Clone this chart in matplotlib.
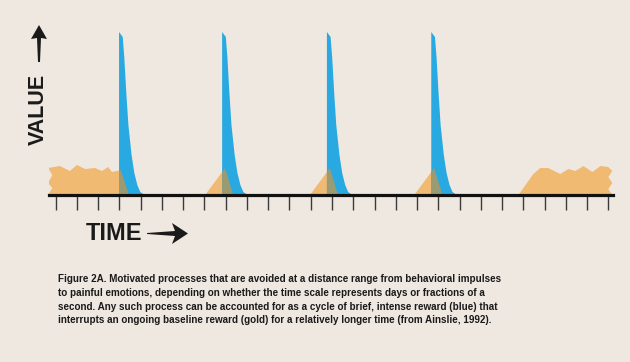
import numpy as np
import matplotlib
matplotlib.use("Agg")
import matplotlib.pyplot as plt
from matplotlib.patches import Polygon

# Data (time in tick units, value in arbitrary units)
tick_times = list(range(27))
spike_times = [2.98, 7.83, 12.76, 17.67]

# shape of one blue spike (offset from spike start, value)
blue_dt = [0.0, 0.0, 0.174, 0.25, 0.34, 0.44, 0.59, 0.72, 0.86, 1.0, 1.2]
blue_h = [0, 163, 158, 137, 103, 70, 40, 22, 10, 3, 0]

# small gold bump around later spikes
bump_dt = [-0.80, 0.14, 0.52]
bump_h = [0, 27, 0]

# ongoing baseline reward before the first spike
left_t = [-0.36, -0.16, -0.36, -0.16, -0.36, 0.20, 0.67, 1.00, 1.38, 1.85, 2.18, 2.46, 2.65, 2.89, 3.06, 3.45]
left_h = [0, 7, 12, 20, 27, 29, 24, 30, 26, 27, 24, 28, 23, 24, 25, 0]

# baseline reward after the last spike
right_t = [21.77, 22.47, 22.80, 23.17, 23.74, 24.12, 24.45, 24.83, 25.25, 25.63, 26.00, 26.19, 26.00, 26.19, 26.00, 26.19]
right_h = [0, 21, 27, 27, 21, 26, 24, 29, 23, 29, 28, 24, 18, 12, 6, 0]

caption = [
    "Figure 2A. Motivated processes that are avoided at a distance range from behavioral impulses",
    "to painful emotions, depending on whether the time scale represents days or fractions of a",
    "second. Any such process can be accounted for as a cycle of brief, intense reward (blue) that",
    "interrupts an ongoing baseline reward (gold) for a relatively longer time (from Ainslie, 1992).",
]

bg = "#EFE8E1"
gold = "#F0BA73"
blue = "#29A9E1"
olive = "#9B9B73"
W, H = 630, 362

def px(x, y):
    return (x / W, 1 - y / H)

fig = plt.figure(figsize=(W / 100, H / 100), dpi=100, facecolor=bg)
ax = fig.add_axes([49 / W, (H - 195) / H, (613 - 49) / W, 170 / H])
ax.set_facecolor(bg)
ax.set_xlim(-0.315, 26.22)
ax.set_ylim(0, 170)

# gold shapes
gold_shapes = [(left_t, left_h), (right_t, right_h)]
for s in spike_times[1:]:
    gold_shapes.append(([s + d for d in bump_dt], bump_h))
for gx, gy in gold_shapes:
    ax.fill(gx, gy, color=gold, lw=0)

# blue spikes, with the overlap shown in olive
for s in spike_times:
    bx = [s + d for d in blue_dt]
    bpatch = ax.fill(bx, blue_h, color=blue, lw=0)[0]
    for gx, gy in gold_shapes:
        op = ax.fill(gx, gy, color=olive, lw=0)[0]
        op.set_clip_path(bpatch)

for side in ["top", "right", "left"]:
    ax.spines[side].set_visible(False)
ax.spines["bottom"].set_linewidth(2.3)
ax.spines["bottom"].set_color("#111111")
ax.spines["bottom"].set_zorder(5)
ax.set_yticks([])
ax.set_xticks(tick_times)
ax.set_xticklabels([])
ax.tick_params(axis="x", direction="out", length=11, width=1.0, color="#3a3a3a")

# axis titles
fig.text(*px(38, 109), "VALUE", rotation=90, ha="center", va="center",
         fontsize=15.5, fontweight="bold", family="Liberation Sans", color="#1a1a1a")
fig.text(*px(86, 234), "TIME", ha="left", va="center",
         fontsize=17, fontweight="bold", family="Liberation Sans", color="#1a1a1a")

up_arrow = [(39, 25), (47, 39), (41, 38), (40, 62), (38, 62), (37, 38), (31, 39)]
right_arrow = [(147, 233), (175, 231), (172, 223), (188, 233.5), (172, 244), (175, 236), (147, 234)]
for pts in [up_arrow, right_arrow]:
    fig.patches.append(Polygon([px(x, y) for x, y in pts], closed=True,
                               transform=fig.transFigure, color="#1a1a1a", lw=0))

# caption
for i, line in enumerate(caption):
    fig.text(*px(58, 282 + 13.8 * i), line, ha="left", va="baseline",
             fontsize=7.15, fontweight="bold", family="Liberation Sans", color="#1a1a1a")

fig.savefig("out.png", dpi=100, facecolor=bg)
